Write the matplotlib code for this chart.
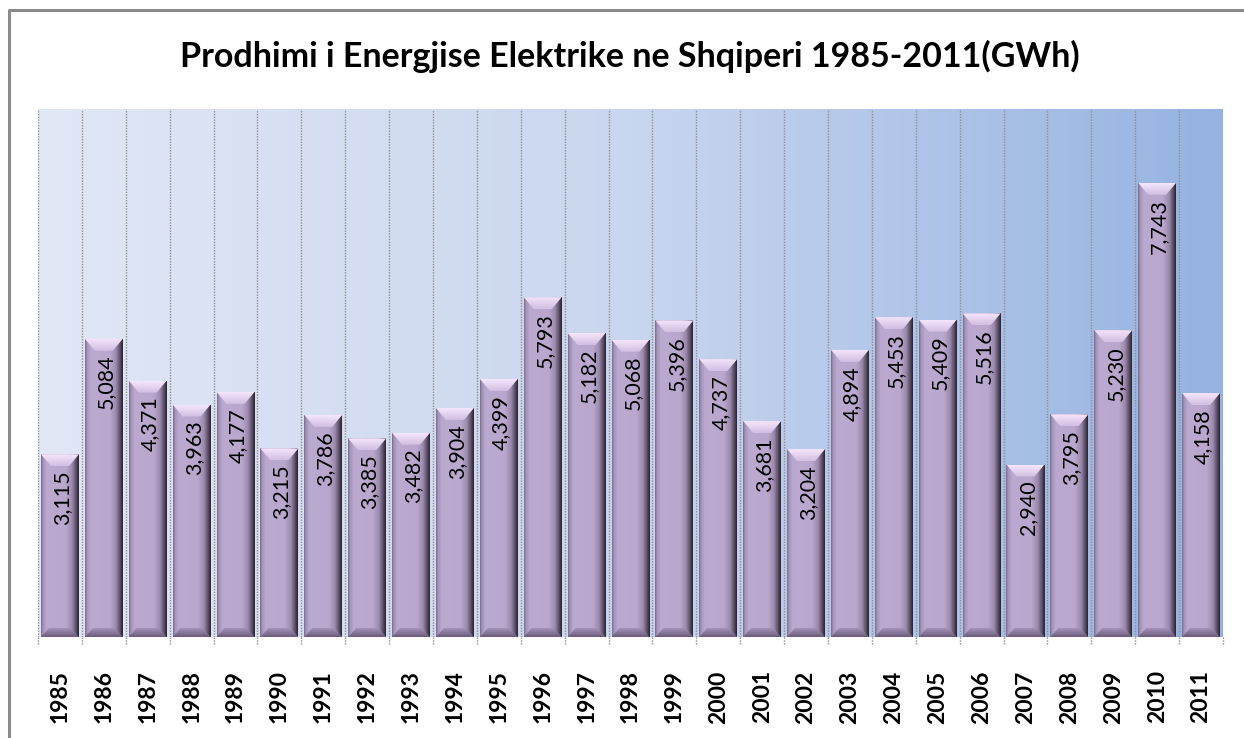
import numpy as np
import matplotlib
matplotlib.use("Agg")
import matplotlib.pyplot as plt
from matplotlib.colors import LinearSegmentedColormap
from matplotlib.patches import Rectangle, Polygon
from matplotlib.lines import Line2D

years = ["1985", "1986", "1987", "1988", "1989", "1990", "1991", "1992", "1993",
         "1994", "1995", "1996", "1997", "1998", "1999", "2000", "2001", "2002",
         "2003", "2004", "2005", "2006", "2007", "2008", "2009", "2010", "2011"]
values = [3115, 5084, 4371, 3963, 4177, 3215, 3786, 3385, 3482, 3904, 4399, 5793,
          5182, 5068, 5396, 4737, 3681, 3204, 4894, 5453, 5409, 5516, 2940, 3795,
          5230, 7743, 4158]
title = "Prodhimi i Energjise Elektrike ne Shqiperi 1985-2011(GWh)"

W, H, DPI = 1244, 738, 100
fig = plt.figure(figsize=(W / DPI, H / DPI), dpi=DPI)
fig.patch.set_facecolor("white")

ax_l, ax_r, ax_b, ax_t = 38 / W, 1223 / W, 1 - 637 / H, 1 - 109 / H
ax = fig.add_axes([ax_l, ax_b, ax_r - ax_l, ax_t - ax_b])
n = len(values)
ymax = 9000
ax.set_xlim(-0.5, n - 0.5)
ax.set_ylim(0, ymax)

# background gradient
bg = LinearSegmentedColormap.from_list("bg", ["#e1e7f5", "#c9d6ef", "#95b3e1"])
grad = np.linspace(0, 1, 256).reshape(1, -1)
ax.imshow(grad, extent=[-0.5, n - 0.5, 0, ymax], aspect="auto", cmap=bg, zorder=0)

# dotted separators
for b in np.arange(-0.5, n, 1.0):
    ax.plot([b, b], [0, ymax], ls=(0, (1, 1)), color="#8f8f8f", lw=1.0, zorder=0.5)
    ax.plot([b, b], [0, -7 * ymax / ((ax_t - ax_b) * H)], ls=(0, (1, 1)),
            color="#8f8f8f", lw=1.0, zorder=0.5, clip_on=False)

px_x = (ax_r - ax_l) * W / n
px_y = (ax_t - ax_b) * H / ymax
bw = 38 / px_x
bev_x = 10 / px_x
bev_y = 12 / px_y
bot_x = 8 / px_x
bot_y = 9 / px_y

body = LinearSegmentedColormap.from_list("body", [
    (0.0, "#7a6b8d"), (0.05, "#a393b7"), (0.15, "#bba9cf"), (0.66, "#b9a7cd"),
    (0.82, "#9b8aac"), (0.93, "#584c63"), (1.0, "#282230")])
topc = LinearSegmentedColormap.from_list("topc", ["#d2bee2", "#f6e6fc"])
botc = LinearSegmentedColormap.from_list("botc", ["#6a5c7d", "#a593b7"])

hgrad = np.linspace(0, 1, 128).reshape(1, -1)
vgrad = np.linspace(0, 1, 64).reshape(-1, 1)[::-1]

for i, v in enumerate(values):
    x0, x1 = i - bw / 2, i + bw / 2
    rect = Rectangle((x0, 0), bw, v, transform=ax.transData, facecolor="none",
                     edgecolor="none")
    ax.add_patch(rect)
    im = ax.imshow(hgrad, extent=[x0, x1, 0, v], aspect="auto", cmap=body, zorder=2)
    im.set_clip_path(rect)
    # top bevel
    tp = Polygon([(x0, v), (x1, v), (x1 - bev_x, v - bev_y), (x0 + bev_x, v - bev_y)],
                 closed=True, facecolor="none", edgecolor="none", transform=ax.transData)
    ax.add_patch(tp)
    it = ax.imshow(vgrad, extent=[x0, x1, v - bev_y, v], aspect="auto", cmap=topc,
                   zorder=3, origin="upper")
    it.set_clip_path(tp)
    # bottom bevel
    bp = Polygon([(x0, 0), (x1, 0), (x1 - bot_x, bot_y), (x0 + bot_x, bot_y)],
                 closed=True, facecolor="none", edgecolor="none", transform=ax.transData)
    ax.add_patch(bp)
    ib = ax.imshow(vgrad[::-1], extent=[x0, x1, 0, bot_y], aspect="auto", cmap=botc,
                   zorder=3, origin="lower")
    ib.set_clip_path(bp)
    # value label
    ax.text(i + 0.05, v - 16 / px_y, f"{v:,}", rotation=90, ha="center", va="top",
            fontsize=15.5, family="Lato", color="black", zorder=5)

ax.set_xlim(-0.5, n - 0.5)
ax.set_ylim(0, ymax)
ax.set_xticks(range(n))
ax.set_xticklabels(years, rotation=90, fontsize=16.5, fontweight="bold", family="Lato")
ax.tick_params(axis="x", length=0, pad=24)
ax.set_yticks([])
for s in ax.spines.values():
    s.set_visible(False)

fig.text(630 / W, 1 - 67 / H, title, ha="center", va="baseline", fontsize=24.5,
         fontweight="bold", family="Lato")

# chart frame
fig.add_artist(Line2D([9 / W, 9 / W, 1.0], [0, 1 - 10 / H, 1 - 10 / H],
                      transform=fig.transFigure, color="#8a8a8a", lw=2.2))

fig.savefig("out.png", dpi=DPI)
